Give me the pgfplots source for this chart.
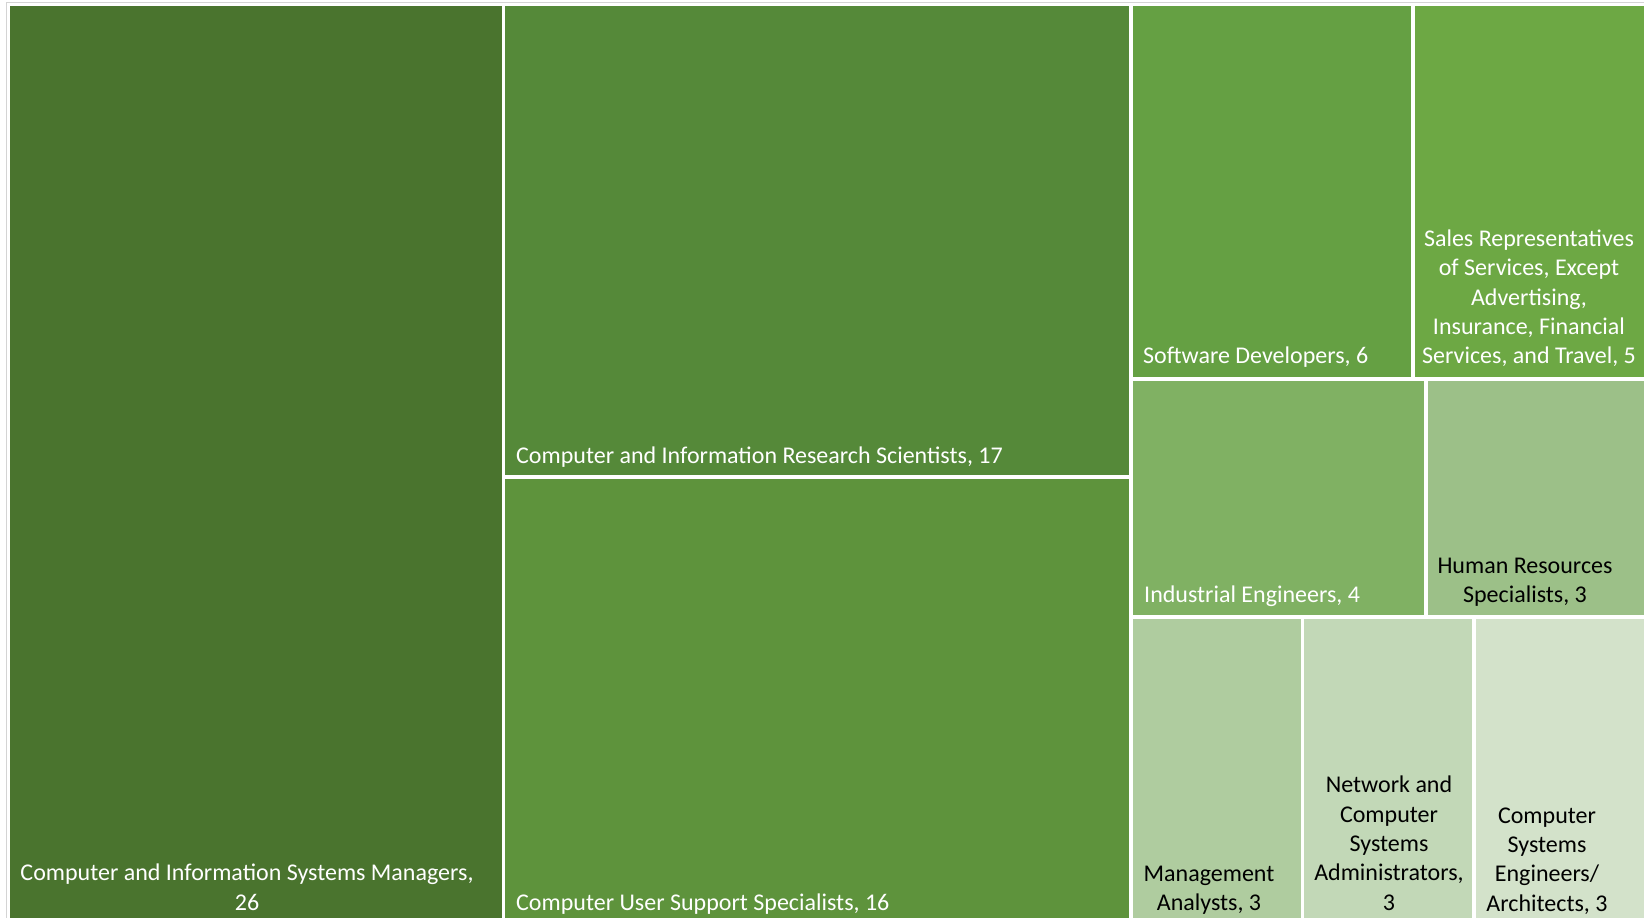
\documentclass[border=0pt]{standalone}
\usepackage{fontspec}
\setmainfont{Carlito}
\usepackage{pgfplots}
\pgfplotsset{compat=1.18}
\definecolor{cMgr}{HTML}{4A742E}
\definecolor{cRes}{HTML}{558939}
\definecolor{cSup}{HTML}{5E933C}
\definecolor{cSw}{HTML}{65A043}
\definecolor{cSal}{HTML}{6DA844}
\definecolor{cInd}{HTML}{80B163}
\definecolor{cHR}{HTML}{9CC088}
\definecolor{cMan}{HTML}{AFCC9F}
\definecolor{cNet}{HTML}{C2D8B7}
\definecolor{cCSE}{HTML}{D3E2CA}
\definecolor{frame}{HTML}{D4D4D4}
% one line of a tile label: anchor, colour, x, y, text
\newcommand{\lbl}[5]{\node[anchor=#1,text=#2,inner sep=0pt,yshift=-7pt,font=\fontsize{24}{29}\selectfont] at (axis cs:#3,#4) {#5};}
\begin{document}
\begin{tikzpicture}
\begin{axis}[
  width=1644pt, height=918pt, scale only axis,
  xmin=0, xmax=1644, ymin=0, ymax=918,
  y dir=reverse,
  axis line style={draw=none},
  ticks=none,
]
% outer frame
\addplot[draw=frame, line width=1pt] coordinates {(6.5,918) (6.5,2.5) (1644,2.5)};
% tiles (pixel boxes, y downwards)
\addplot[fill=cMgr,draw=none] coordinates {(10,6) (502,6) (502,918) (10,918)};
\addplot[fill=cRes,draw=none] coordinates {(505,6) (1129,6) (1129,475) (505,475)};
\addplot[fill=cSup,draw=none] coordinates {(505,479) (1129,479) (1129,918) (505,918)};
\addplot[fill=cSw,draw=none] coordinates {(1133,6) (1411,6) (1411,377) (1133,377)};
\addplot[fill=cSal,draw=none] coordinates {(1415,6) (1644,6) (1644,377) (1415,377)};
\addplot[fill=cInd,draw=none] coordinates {(1133,381) (1424,381) (1424,615) (1133,615)};
\addplot[fill=cHR,draw=none] coordinates {(1428,381) (1644,381) (1644,615) (1428,615)};
\addplot[fill=cMan,draw=none] coordinates {(1133,619) (1301,619) (1301,918) (1133,918)};
\addplot[fill=cNet,draw=none] coordinates {(1304,619) (1472,619) (1472,918) (1304,918)};
\addplot[fill=cCSE,draw=none] coordinates {(1476,619) (1644,619) (1644,918) (1476,918)};
% labels
\lbl{mid}{white}{247}{871}{Computer and Information Systems Managers,}
\lbl{mid}{white}{247}{901}{26}
\lbl{mid west}{white}{516}{454}{Computer and Information Research Scientists, 17}
\lbl{mid west}{white}{516}{901}{Computer User Support Specialists, 16}
\lbl{mid west}{white}{1143}{354}{Software Developers, 6}
\lbl{mid}{white}{1529}{237}{Sales Representatives}
\lbl{mid}{white}{1529}{266}{of Services, Except}
\lbl{mid}{white}{1529}{296}{Advertising,}
\lbl{mid}{white}{1529}{325}{Insurance, Financial}
\lbl{mid}{white}{1529}{354}{Services, and Travel, 5}
\lbl{mid west}{white}{1144}{593}{Industrial Engineers, 4}
\lbl{mid}{black}{1525}{564}{Human Resources}
\lbl{mid}{black}{1525}{593}{Specialists, 3}
\lbl{mid}{black}{1209}{872}{Management}
\lbl{mid}{black}{1209}{901}{Analysts, 3}
\lbl{mid}{black}{1389}{783}{Network and}
\lbl{mid}{black}{1389}{813}{Computer}
\lbl{mid}{black}{1389}{842}{Systems}
\lbl{mid}{black}{1389}{871}{Administrators,}
\lbl{mid}{black}{1389}{901}{3}
\lbl{mid}{black}{1547}{814}{Computer}
\lbl{mid}{black}{1547}{843}{Systems}
\lbl{mid}{black}{1547}{872}{Engineers/}
\lbl{mid}{black}{1547}{902}{Architects, 3}
\end{axis}
\end{tikzpicture}
\end{document}
